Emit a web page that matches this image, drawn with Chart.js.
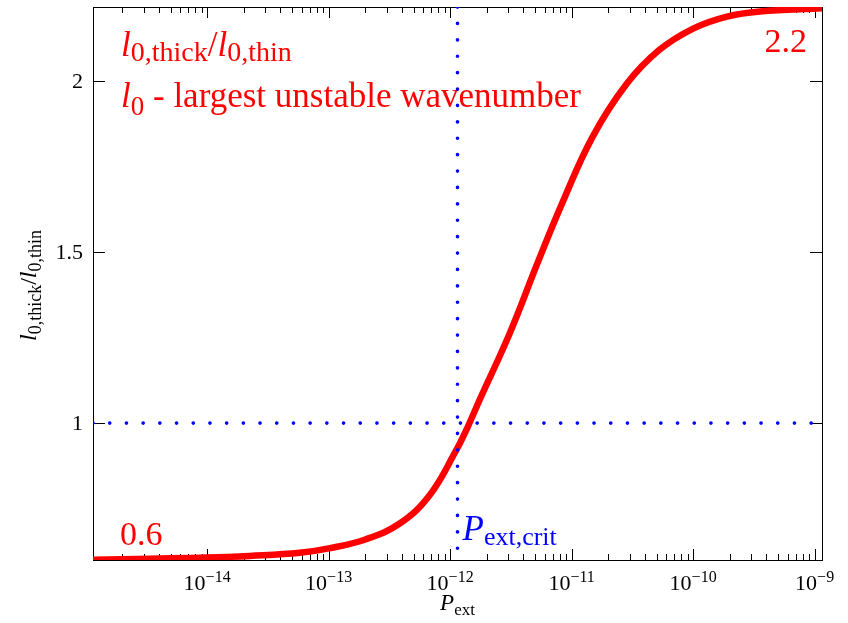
<!DOCTYPE html>
<html lang="en">
<head>
<meta charset="UTF-8">
<title>l0,thick / l0,thin versus P_ext</title>
<script src="https://cdn.jsdelivr.net/npm/chart.js"></script>
<style>
    html, body { margin: 0; padding: 0; background: #fff; }
</style>
</head>
<body>
<canvas id="ratioChart" width="848" height="623"></canvas>
<script>
// values
const pExt = [1.15e-15, 3.4e-15, 1e-14, 2.24e-14, 5.8e-14, 1e-13, 2e-13, 3.9e-13, 6.8e-13, 1.1e-12,
              1.38e-12, 1.76e-12, 3.09e-12, 5.27e-12, 8.3e-12, 1.48e-11, 2.82e-11, 5.25e-11, 1e-10,
              1.9e-10, 3.55e-10, 1.15e-9];
const ratio = [0.601, 0.604, 0.607, 0.612, 0.621, 0.634, 0.66, 0.708, 0.79, 0.915,
               0.985, 1.07, 1.262, 1.47, 1.64, 1.835, 1.99, 2.09, 2.153,
               2.188, 2.203, 2.212];

const pCrit = 1.15e-12;        // P_ext,crit
const pMin = 1.15e-15, pMax = 1.15e-9;
const ratioMin = 0.6, ratioMax = 2.216;
const ratioRef = 1;
const yTickValues = [1, 1.5, 2];
const yTickLabels = ['1', '1.5', '2'];
const xDecades = [-15, -14, -13, -12, -11, -10, -9];

const serif = '"Liberation Serif", "Times New Roman", serif';

// draw a row of text pieces [text, font, dy], returns its width
function drawParts(ctx, x, y, parts, measureOnly) {
    let cx = x;
    for (const [t, f, dy] of parts) {
        ctx.font = f;
        if (!measureOnly) ctx.fillText(t, cx, y + dy);
        cx += ctx.measureText(t).width;
    }
    return cx - x;
}

const framePlugin = {
    id: 'frame',
    beforeDatasetsDraw(chart) {
        const {ctx, chartArea: a, scales: {x, y}} = chart;
        ctx.save();
        ctx.strokeStyle = '#000';
        ctx.lineWidth = 1;
        ctx.strokeRect(a.left + 0.5, a.top + 0.5, a.right - a.left, a.bottom - a.top);

        // inward ticks, mirrored on top and right
        ctx.beginPath();
        x.ticks.forEach(t => {
            const px = Math.round(x.getPixelForValue(t.value)) + 0.5;
            const len = t.major ? 11 : 6;
            ctx.moveTo(px, a.bottom); ctx.lineTo(px, a.bottom - len);
            ctx.moveTo(px, a.top); ctx.lineTo(px, a.top + len);
        });
        y.ticks.forEach(t => {
            const py = Math.round(y.getPixelForValue(t.value)) + 0.5;
            ctx.moveTo(a.left, py); ctx.lineTo(a.left + 12, py);
            ctx.moveTo(a.right, py); ctx.lineTo(a.right - 12, py);
        });
        ctx.stroke();

        ctx.fillStyle = '#000';
        ctx.textBaseline = 'alphabetic';

        // y tick labels
        ctx.font = '22px ' + serif;
        ctx.textAlign = 'right';
        y.ticks.forEach((t, i) => {
            ctx.fillText(yTickLabels[i], a.left - 10, y.getPixelForValue(t.value) + 7);
        });

        // x tick labels 10^n
        ctx.textAlign = 'left';
        x.ticks.filter(t => t.major).forEach(t => {
            const exp = Math.round(Math.log10(t.value));
            const parts = [['10', '22px ' + serif, 0], ['\u2212' + Math.abs(exp), '16px ' + serif, -8]];
            const w = drawParts(ctx, 0, 0, parts, true);
            drawParts(ctx, x.getPixelForValue(t.value) - w / 2, 590, parts);
        });

        // axis titles
        const xt = [['P', 'italic 23px ' + serif, 0], ['ext', '17px ' + serif, 5]];
        const xw = drawParts(ctx, 0, 0, xt, true);
        drawParts(ctx, (a.left + a.right) / 2 - xw / 2, 610, xt);

        const yt = [['l', 'italic 24px ' + serif, 0], ['0,thick', '18px ' + serif, 5],
                    ['/', '24px ' + serif, 0], ['l', 'italic 24px ' + serif, 0], ['0,thin', '18px ' + serif, 5]];
        const yw = drawParts(ctx, 0, 0, yt, true);
        ctx.save();
        ctx.translate(36, (a.top + a.bottom) / 2 + 2);
        ctx.rotate(-Math.PI / 2);
        drawParts(ctx, -yw / 2, 0, yt);
        ctx.restore();

        // annotations
        ctx.fillStyle = '#ff0000';
        drawParts(ctx, 121, 56, [['l', 'italic 35px ' + serif, 0], ['0,thick', '28px ' + serif, 5],
                                 ['/', '35px ' + serif, 0], ['l', 'italic 35px ' + serif, 0], ['0,thin', '28px ' + serif, 5]]);
        drawParts(ctx, 121, 107, [['l', 'italic 35px ' + serif, 0], ['0', '27px ' + serif, 8],
                                  [' - largest unstable wavenumber', '35px ' + serif, 0]]);
        ctx.font = '34px ' + serif;
        ctx.textAlign = 'right';
        ctx.fillText('2.2', 807, 52);
        ctx.textAlign = 'left';
        ctx.fillText('0.6', 120, 545);

        ctx.fillStyle = '#0000ff';
        drawParts(ctx, x.getPixelForValue(pCrit) + 5, 540,
                  [['P', 'italic 35px ' + serif, 0], ['ext,crit', '26px ' + serif, 5]]);
        ctx.restore();
    }
};

const ctx = document.getElementById('ratioChart').getContext('2d');
new Chart(ctx, {
    type: 'line',
    data: {
        datasets: [
            {
                data: [{x: pCrit, y: ratioMax}, {x: pCrit, y: ratioMin}],
                borderColor: '#0000ff', borderWidth: 3.6, borderDash: [0.1, 16.3],
                borderCapStyle: 'round', pointRadius: 0
            },
            {
                data: [{x: pMin, y: ratioRef}, {x: pMax, y: ratioRef}],
                borderColor: '#0000ff', borderWidth: 3.6, borderDash: [0.1, 16.6],
                borderCapStyle: 'round', pointRadius: 0
            },
            {
                data: pExt.map((p, i) => ({x: p, y: ratio[i]})),
                borderColor: '#ff0000', borderWidth: 6.5, pointRadius: 0,
                tension: 0.4
            }
        ]
    },
    options: {
        responsive: false,
        animation: false,
        events: [],
        layout: {padding: {top: 7, right: 26, bottom: 0, left: 0}},
        plugins: {legend: {display: false}, tooltip: {enabled: false}},
        scales: {
            x: {
                type: 'logarithmic', min: pMin, max: pMax,
                grid: {display: false}, border: {display: false},
                ticks: {display: false},
                afterBuildTicks: s => {
                    const ticks = [];
                    xDecades.forEach(e => {
                        for (let m = 1; m <= 9; m++) {
                            const v = m * Math.pow(10, e);
                            if (v > pMin && v < pMax) ticks.push({value: v, major: m === 1});
                        }
                    });
                    s.ticks = ticks;
                },
                afterFit: s => { s.height = 63; }
            },
            y: {
                type: 'linear', min: ratioMin, max: ratioMax,
                grid: {display: false}, border: {display: false},
                ticks: {display: false},
                afterBuildTicks: s => { s.ticks = yTickValues.map(v => ({value: v})); },
                afterFit: s => { s.width = 93; }
            }
        }
    },
    plugins: [framePlugin]
});
</script>
</body>
</html>
